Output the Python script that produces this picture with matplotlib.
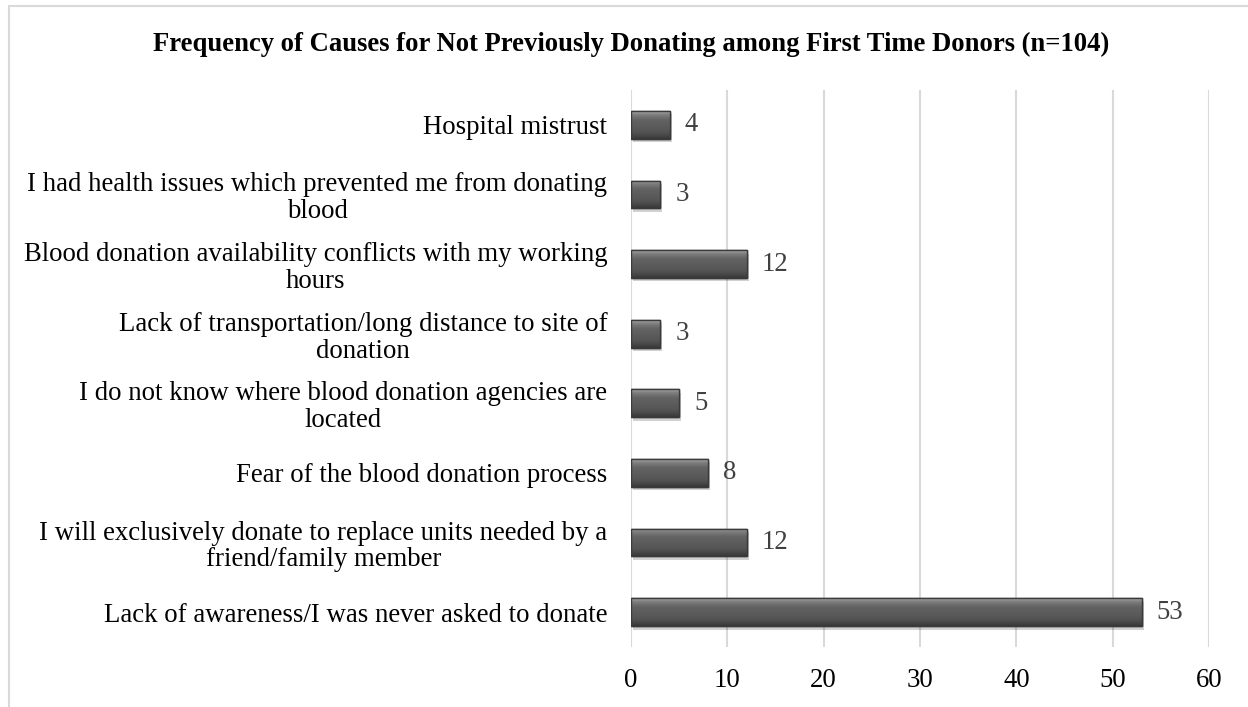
import numpy as np
import matplotlib
matplotlib.use("Agg")
import matplotlib.pyplot as plt
import matplotlib.transforms as mtransforms
from matplotlib.patches import Rectangle

# data (top to bottom as shown)
causes = [
    "Hospital mistrust",
    "I had health issues which prevented me from donating\nblood",
    "Blood donation availability conflicts with my working\nhours",
    "Lack of transportation/long distance to site of\ndonation",
    "I do not know where blood donation agencies are\nlocated",
    "Fear of the blood donation process",
    "I will exclusively donate to replace units needed by a\nfriend/family member",
    "Lack of awareness/I was never asked to donate",
]
counts = [4, 3, 12, 3, 5, 8, 12, 53]
xticks = [0, 10, 20, 30, 40, 50, 60]
title = "Frequency of Causes for Not Previously Donating among First Time Donors (n=104)"

plt.rcParams['font.family'] = ['Liberation Serif', 'DejaVu Serif']

W, H = 1248, 707
fig = plt.figure(figsize=(W / 100, H / 100), dpi=100)
ax = fig.add_axes([631 / W, 1 - 647 / H, 578 / W, 557 / H])

y = np.arange(len(causes))
bars = ax.barh(y, counts, height=0.4, color='#555555', edgecolor='#3a3a3a',
               linewidth=1, zorder=3)

# vertical gradient for a bevelled look
stops = [(0.0, 0.66), (0.12, 0.50), (0.3, 0.39), (0.75, 0.33), (0.9, 0.27), (1.0, 0.22)]
rows = np.linspace(0, 1, 60)
vals = np.interp(rows, [s[0] for s in stops], [s[1] for s in stops])
grad = np.repeat(vals[:, None, None], 3, axis=2)

shadow_tr = ax.transData + mtransforms.ScaledTranslation(1.5 / 72, -2.5 / 72, fig.dpi_scale_trans)
for b in bars:
    x0, y0, w, h = b.get_x(), b.get_y(), b.get_width(), b.get_height()
    im = ax.imshow(grad, extent=(x0, x0 + w, y0 + h, y0), aspect='auto',
                   interpolation='bilinear', zorder=3.5)
    im.set_clip_path(b)
    sh = Rectangle((x0, y0), w, h, transform=shadow_tr, facecolor='black',
                   alpha=0.18, edgecolor='none', zorder=2.5)
    ax.add_patch(sh)
    ax.add_patch(Rectangle((x0, y0), w, h, fill=False, edgecolor='#3a3a3a',
                           linewidth=1, zorder=4))

for yi, v in zip(y, counts):
    ax.annotate(str(v), (v, yi), xytext=(11, 0), textcoords='offset points',
                va='center', ha='left', fontsize=19.3, color='#404040')

ax.set_xlim(0, 60)
ax.set_ylim(len(causes) - 0.5, -0.5)
ax.set_xticks(xticks)
ax.set_yticks(y)
ax.set_yticklabels(causes, multialignment='center', linespacing=1.1)
ax.tick_params(axis='y', length=0, pad=17, labelsize=19.3)
ax.tick_params(axis='x', length=0, pad=15, labelsize=19.3)
ax.xaxis.grid(True, color='#d9d9d9', linewidth=1.5)
ax.set_axisbelow(True)
for s in ax.spines.values():
    s.set_visible(False)

fig.text(0.506, 1 - 44 / H, title, ha='center', va='center',
         fontsize=19.2, fontweight='bold')

# chart border (top/left visible)
fig.patches.append(Rectangle((9 / W, -0.1), 1.2, (H - 6) / H + 0.1,
                             transform=fig.transFigure, fill=False,
                             edgecolor='#d9d9d9', linewidth=1.5))

fig.savefig("out.png", dpi=100)
